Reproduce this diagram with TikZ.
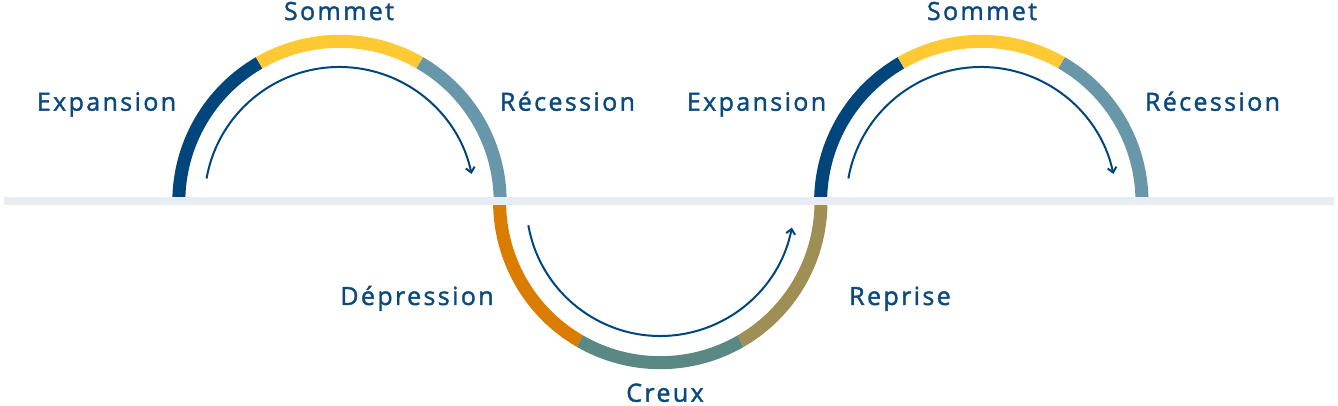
\documentclass[tikz,border=0pt]{standalone}
\usepackage{fontspec}
\newfontfamily\lblfont[FakeBold=1.6,LetterSpace=9.5]{Open Sans}
\usetikzlibrary{arrows.meta}
\definecolor{cdark}{HTML}{00457C}
\definecolor{cyellow}{HTML}{FFC933}
\definecolor{cgrayblue}{HTML}{6897AA}
\definecolor{corange}{HTML}{D97C00}
\definecolor{cteal}{HTML}{5A8883}
\definecolor{colive}{HTML}{A08F55}
\definecolor{cline}{HTML}{E6ECF1}
\definecolor{ctext}{HTML}{0B4A7E}
\begin{document}
\begin{tikzpicture}[x=1pt,y=1pt,
  seg/.style={line width=13pt},
  lbl/.style={text=ctext, font=\lblfont\fontsize{25}{25}\selectfont, inner sep=0pt, anchor=base},
  cyc/.style={line width=2pt, draw=cdark, -{Straight Barb[length=5pt,width=9pt,line width=2pt]}}]
\useasboundingbox (0,0) rectangle (1338,406);
\coordinate (c1) at (339.5,204);
\coordinate (c2) at (660.3,204);
\coordinate (c3) at (981.3,204);
\def\R{160.7}
% first hump
\draw[seg,cdark] ([shift={(180:\R)}]c1) arc (180:120:\R);
\draw[seg,cyellow] ([shift={(120:\R)}]c1) arc (120:60:\R);
\draw[seg,cgrayblue] ([shift={(60:\R)}]c1) arc (60:0:\R);
% trough
\draw[seg,corange] ([shift={(180:\R)}]c2) arc (180:240:\R);
\draw[seg,cteal] ([shift={(240:\R)}]c2) arc (240:300:\R);
\draw[seg,colive] ([shift={(300:\R)}]c2) arc (300:360:\R);
% second hump
\draw[seg,cdark] ([shift={(180:\R)}]c3) arc (180:120:\R);
\draw[seg,cyellow] ([shift={(120:\R)}]c3) arc (120:60:\R);
\draw[seg,cgrayblue] ([shift={(60:\R)}]c3) arc (60:0:\R);
% baseline
\coordinate (l0) at (4,205);
\coordinate (l1) at (1334,205);
\draw[line width=8pt, cline] (l0) -- (l1);
% cycle arrows
\draw[cyc] ([shift={(170:135)}]c1) arc (170:12:135);
\draw[cyc] ([shift={(190:134)}]c2) arc (190:349:134);
\draw[cyc] ([shift={(170:135)}]c3) arc (170:12:135);
% labels
\node[lbl] (s1) at (339,386) {Sommet};
\node[lbl] (e1) at (106.5,295.3) {Expansion};
\node[lbl] (r1) at (567.5,295.3) {Récession};
\node[lbl] (e2) at (756.5,295.3) {Expansion};
\node[lbl] (s2) at (982,386) {Sommet};
\node[lbl] (r2) at (1212.5,295.3) {Récession};
\node[lbl] (d1) at (417,101) {Dépression};
\node[lbl] (p1) at (900,101) {Reprise};
\node[lbl] (k1) at (665,4.3) {Creux};
\end{tikzpicture}
\end{document}
